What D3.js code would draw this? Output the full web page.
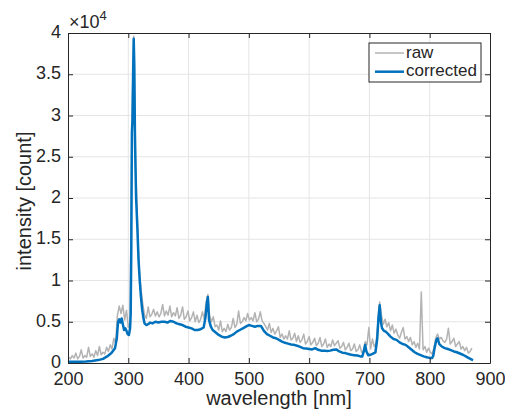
<!DOCTYPE html>
<html>
<head>
<meta charset="utf-8">
<script src="https://cdn.jsdelivr.net/npm/d3@7"></script>
<style>
  body { margin: 0; background: #fff; }
  svg text { font-family: "Liberation Sans", Arial, sans-serif; fill: #262626; }
</style>
</head>
<body>
<svg id="chart"></svg>
<script>
// Corrected spectrum (smooth), wavelength in nm
const corrWl = [200, 210, 220, 230, 240, 250, 258, 265, 272, 278, 281, 283, 285, 287, 289, 291, 293, 295, 297, 299, 301, 303,
  304, 305, 306, 307, 308, 309, 310, 311, 312, 313, 315, 317, 319, 321, 323, 325, 327, 330, 333, 336, 340, 345, 350, 355, 360,
  365, 370, 375, 380, 385, 390, 395, 400, 405, 410, 415, 420, 425, 428, 430, 432, 434, 437, 440, 445, 450, 455, 460, 465, 470,
  475, 480, 485, 490, 495, 500, 505, 510, 515, 520, 525, 530, 535, 540, 545, 550, 555, 560, 565, 570, 575, 580, 585, 590, 595,
  600, 605, 610, 615, 620, 625, 630, 635, 640, 645, 650, 655, 660, 665, 670, 675, 680, 685, 688, 691, 693, 695, 698, 702, 706,
  710, 713, 715, 717, 719, 721, 724, 727, 730, 735, 740, 745, 750, 755, 760, 765, 770, 775, 780, 785, 790, 795, 800, 804, 806,
  808, 811, 813, 816, 820, 825, 830, 835, 840, 845, 850, 855, 860, 865, 870, 872];
const corrVal = [150, 150, 160, 180, 250, 350, 500, 800, 1200, 1800, 3000, 5000, 5300, 4900, 5400, 4700, 4000, 4200, 3900, 3500, 3400, 4200,
  6000, 14000, 28000, 29500, 35000, 39300, 36000, 28000, 23500, 20000, 16500, 12500, 10000, 8000, 6500, 5500, 4800, 4600, 4700, 4900, 4800, 5000, 4900, 5000, 5000,
  4900, 5100, 5000, 4800, 4700, 4600, 4400, 4300, 4200, 4000, 4000, 4100, 4300, 5500, 7000, 8000, 5200, 4400, 4000, 3700, 3400, 3200, 3100, 3150, 3300,
  3500, 3800, 4000, 4200, 4400, 4600, 4500, 4400, 4500, 4500, 3900, 3500, 3300, 3100, 3000, 2800, 2600, 2450, 2350, 2250, 2200, 2100, 1950, 1800, 1750,
  1700, 1650, 1800, 1600, 1500, 1500, 1450, 1500, 1600, 1650, 1400, 1250, 1200, 1100, 1000, 950, 900, 800, 780, 1500, 2200, 1400, 950, 1000, 1150,
  1300, 3000, 5500, 7000, 5000, 4200, 3900, 3800, 3600, 3200, 2900, 2800, 2500, 2300, 2200, 1900, 1600, 1300, 1100, 950, 800, 700, 620, 600, 900,
  1800, 2800, 3000, 2300, 2000, 1800, 1700, 1550, 1400, 1300, 1150, 1000, 800, 600, 400, 350];

// Raw spectrum, sampled every 3 nm starting at 201 nm
const rawStart = 201, rawStep = 3;
const rawVal = [
  700, 500, 900, 600, 1200, 500, 800, 1600, 600, 900,
  700, 1900, 800, 1100, 700, 1500, 900, 2000, 1000, 1300,
  1100, 1900, 1400, 2200, 1700, 3000, 2400, 5800, 6900, 6000,
  7000, 5200, 6400, 4300, 5000, 29000, 39600, 24500, 17500, 11500,
  9000, 7200, 5800, 5400, 6800, 5600, 5900, 6500, 5700, 6200,
  5600, 6000, 7100, 5700, 6300, 5800, 6900, 5600, 6100, 5700,
  6700, 5400, 5800, 6800, 5300, 5600, 6300, 5100, 5500, 6200,
  5000, 5800, 4900, 5300, 6200, 5300, 7400, 8300, 5700, 5000,
  5600, 4400, 4600, 4000, 5100, 3800, 4200, 3800, 4700, 4000,
  4300, 5400, 4300, 4700, 6300, 4800, 5000, 5500, 5100, 6000,
  5200, 5500, 5100, 6100, 5000, 5300, 6200, 5100, 4800, 4400,
  4000, 4800, 3700, 4200, 3500, 3900, 4400, 3100, 3500, 2900,
  3300, 2900, 3900, 2800, 3000, 3600, 2600, 3300, 2500, 2800,
  3500, 2300, 2600, 3200, 2200, 2500, 3000, 2100, 2400, 3100,
  2000, 2300, 2900, 1900, 2300, 2000, 2800, 2100, 2400, 2700,
  1800, 2000, 2500, 1600, 1900, 2400, 1500, 1700, 2300, 1400,
  1600, 2200, 1300, 1500, 2600, 2200, 4300, 1700, 2900, 2000,
  2400, 4800, 7400, 5800, 4700, 5300, 4400, 4900, 3900, 4600,
  3600, 4100, 3400, 3000, 3700, 4300, 2900, 3200, 2600, 3100,
  2200, 2600, 1900, 2400, 1700, 8600, 1600, 2000, 1300, 1800,
  1300, 1100, 1800, 3000, 3500, 2900, 3100, 2700, 2500, 2900,
  4200, 2300, 2600, 3000, 2000, 2300, 2600, 1700, 2000, 1500,
  1900, 1200, 1400, 1800];

const xTicks = [200, 300, 400, 500, 600, 700, 800, 900];
const yTicks = [0, 5000, 10000, 15000, 20000, 25000, 30000, 35000, 40000];
const yTickLabels = ["0", "0.5", "1", "1.5", "2", "2.5", "3", "3.5", "4"];
const seriesNames = ["raw", "corrected"];

// Colors (MATLAB look)
const rawColor = "#b3b3b3";
const corrColor = "#0072bd";
const axisColor = "#262626";
const gridColor = "#e5e5e5";

const W = 505, H = 415;
const margin = { top: 33, right: 15, bottom: 52, left: 68 };
const width = W - margin.left - margin.right;
const height = H - margin.top - margin.bottom;

const svg = d3.select("#chart").attr("width", W).attr("height", H);
const g = svg.append("g").attr("transform", `translate(${margin.left},${margin.top})`);

const x = d3.scaleLinear().domain([200, 900]).range([0, width]);
const y = d3.scaleLinear().domain([0, 40000]).range([height, 0]);

// Grid lines
g.append("g").selectAll("line").data(xTicks.slice(1, -1)).join("line")
  .attr("x1", d => x(d)).attr("x2", d => x(d)).attr("y1", 0).attr("y2", height)
  .attr("stroke", gridColor).attr("stroke-width", 1);
g.append("g").selectAll("line").data(yTicks.slice(1, -1)).join("line")
  .attr("y1", d => y(d)).attr("y2", d => y(d)).attr("x1", 0).attr("x2", width)
  .attr("stroke", gridColor).attr("stroke-width", 1);

// Data lines
const rawData = rawVal.map((v, i) => [rawStart + i * rawStep, v]);
const corrData = corrWl.map((w, i) => [w, corrVal[i]]);
const line = d3.line().x(d => x(d[0])).y(d => y(d[1]));

g.append("path").datum(rawData).attr("d", line)
  .attr("fill", "none").attr("stroke", rawColor).attr("stroke-width", 1.5).attr("stroke-linejoin", "round");
g.append("path").datum(corrData).attr("d", line)
  .attr("fill", "none").attr("stroke", corrColor).attr("stroke-width", 2.5).attr("stroke-linejoin", "round");

// Axes (ticks pointing inward, box on)
function styleAxis(sel) {
  sel.select(".domain").attr("stroke", axisColor);
  sel.selectAll(".tick line").attr("stroke", axisColor);
  sel.selectAll(".tick text").attr("fill", axisColor).style("font-size", "18px")
    .style("font-family", '"Liberation Sans", Arial, sans-serif');
}

g.append("g").attr("transform", `translate(0,${height})`)
  .call(d3.axisBottom(x).tickValues(xTicks).tickSizeInner(-5).tickSizeOuter(0).tickPadding(9))
  .call(styleAxis);
g.append("g")
  .call(d3.axisTop(x).tickValues(xTicks).tickSizeInner(-5).tickSizeOuter(0).tickFormat(""))
  .call(styleAxis);
g.append("g")
  .call(d3.axisLeft(y).tickValues(yTicks).tickSizeInner(-5).tickSizeOuter(0).tickPadding(7)
    .tickFormat((d, i) => yTickLabels[i]))
  .call(styleAxis)
  .selectAll(".tick text").attr("dy", "0.25em");
g.append("g").attr("transform", `translate(${width},0)`)
  .call(d3.axisRight(y).tickValues(yTicks).tickSizeInner(-5).tickSizeOuter(0).tickFormat(""))
  .call(styleAxis);

// Exponent label
const expo = svg.append("text").attr("x", margin.left + 1).attr("y", 28).style("font-size", "18px");
expo.append("tspan").text("\u00d710");
expo.append("tspan").attr("dy", -8).style("font-size", "13px").text("4");

// Axis labels
svg.append("text").attr("x", margin.left + width / 2).attr("y", 405)
  .attr("text-anchor", "middle").style("font-size", "20px").text("wavelength [nm]");
svg.append("text").attr("transform", `translate(31,${margin.top + height / 2 + 3}) rotate(-90)`)
  .attr("text-anchor", "middle").style("font-size", "20px").text("intensity [count]");

// Legend
const lg = svg.append("g").attr("transform", "translate(369,43)");
lg.append("rect").attr("width", 112).attr("height", 39)
  .attr("fill", "#fff").attr("stroke", axisColor).attr("stroke-width", 1);
[rawColor, corrColor].forEach((c, i) => {
  const yy = 10 + i * 18.7;
  lg.append("line").attr("x1", 6).attr("x2", 35).attr("y1", yy).attr("y2", yy)
    .attr("stroke", c).attr("stroke-width", i === 0 ? 1.5 : 2.5);
  lg.append("text").attr("x", 37).attr("y", yy + 4.5).style("font-size", "17px").text(seriesNames[i]);
});
</script>
</body>
</html>
